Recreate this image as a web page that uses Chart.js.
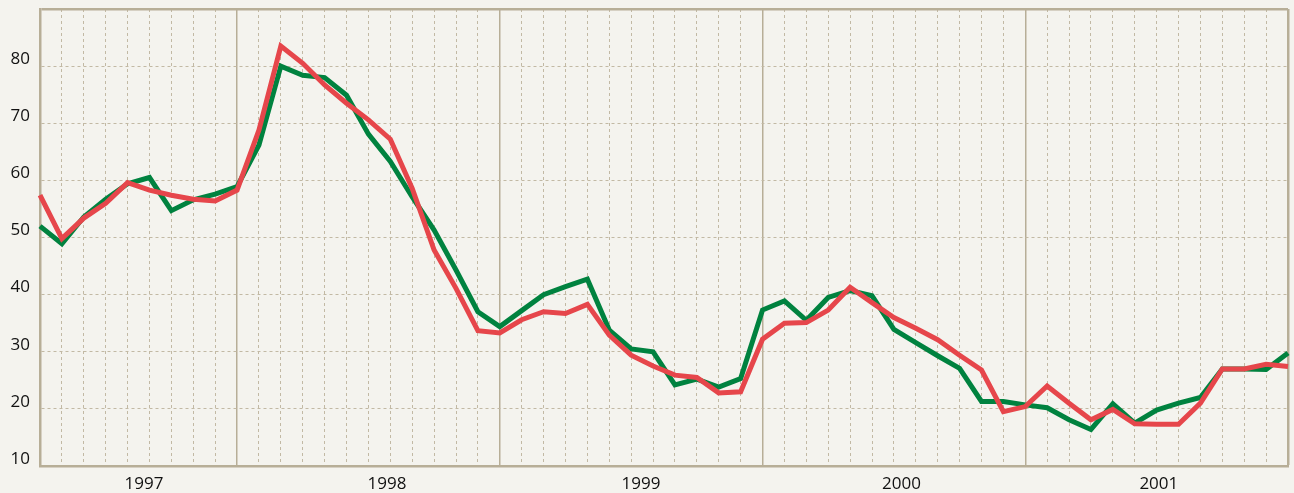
<!DOCTYPE html>
<html>
<head>
<meta charset="utf-8">
<script src="https://cdn.jsdelivr.net/npm/chart.js@4.4.1/dist/chart.umd.min.js"></script>
<style>
  html, body { margin: 0; padding: 0; background: #f4f3ee; }
  #wrap { width: 1294px; height: 493px; position: relative; }
</style>
</head>
<body>
<div id="wrap"><canvas id="chart"></canvas></div>
<script>
// monthly points, April 1997 to January 2002
const monthNames = ['Jan', 'Feb', 'Mar', 'Apr', 'May', 'Jun', 'Jul', 'Aug', 'Sep', 'Oct', 'Nov', 'Dec'];
const months = [];
for (let k = 3; k < 3 + 58; k++) {
    months.push(monthNames[k % 12] + ' ' + (1997 + Math.floor(k / 12)));
}

const greenSeries = [
    52.0, 48.9, 53.6, 56.7, 59.4, 60.5, 54.7, 56.6, 57.6, 58.9,
    66.2, 80.0, 78.4, 78.0, 74.9, 68.1, 63.3, 57.1, 51.3, 44.3,
    37.0, 34.4, 37.2, 40.0, 41.4, 42.7, 33.8, 30.5, 30.0, 24.2,
    25.2, 23.8, 25.3, 37.3, 38.9, 35.5, 39.5, 40.7, 39.8, 33.9,
    31.6, 29.3, 27.1, 21.3, 21.3, 20.7, 20.2, 18.1, 16.4, 20.9,
    17.5, 19.8, 21.0, 22.0, 27.0, 27.0, 26.9, 29.8
];
const redSeries = [
    57.4, 49.8, 53.4, 56.0, 59.6, 58.3, 57.4, 56.7, 56.4, 58.3,
    68.8, 83.5, 80.5, 76.7, 73.5, 70.6, 67.2, 58.6, 47.8, 41.1,
    33.7, 33.3, 35.6, 37.0, 36.7, 38.3, 32.9, 29.4, 27.5, 25.9,
    25.5, 22.8, 23.0, 32.2, 35.0, 35.1, 37.3, 41.3, 38.6, 36.0,
    34.1, 32.1, 29.4, 26.8, 19.5, 20.4, 24.0, 21.0, 18.1, 19.9,
    17.4, 17.3, 17.3, 21.0, 27.0, 27.0, 27.8, 27.4
];

const yearLabels = ['1997', '1998', '1999', '2000', '2001'];
const yearLabelAt = [4.75, 15.85, 27.45, 39.35, 51.1];   // in month-index units
const yearStarts = [9, 21, 33, 45];                      // January positions
const yTicks = [10, 20, 30, 40, 50, 60, 70, 80];

const frameColor = '#b7ae97';
const gridColor = '#c2b9a4';
const dotted = [3, 3];

const ctx = document.getElementById('chart').getContext('2d');
new Chart(ctx, {
    type: 'line',
    data: {
        labels: months,
        datasets: [
            {
                label: 'green',
                data: greenSeries,
                borderColor: '#00823f',
                borderWidth: 5,
                order: 2,
            },
            {
                label: 'red',
                data: redSeries,
                borderColor: '#e6464b',
                borderWidth: 5,
                order: 1,
            },
        ],
    },
    options: {
        responsive: true,
        maintainAspectRatio: false,
        animation: false,
        layout: { padding: { top: 9, right: 6, left: 0, bottom: 0 } },
        elements: {
            point: { radius: 0 },
            line: { tension: 0, borderJoinStyle: 'miter', borderCapStyle: 'butt' },
        },
        plugins: {
            legend: { display: false },
            tooltip: { enabled: false },
        },
        scales: {
            x: {
                type: 'category',
                offset: false,
                ticks: { display: false, autoSkip: false },
                grid: {
                    drawTicks: false,
                    color: (c) => {
                        if (c.index === months.length - 1) return frameColor;
                        return yearStarts.includes(c.index) ? frameColor : gridColor;
                    },
                    lineWidth: (c) => (c.index === months.length - 1 ? 2.5 : (yearStarts.includes(c.index) ? 1.5 : 1)),
                },
                border: {
                    display: true,
                    color: frameColor,
                    width: 2.5,
                    dash: (c) => {
                        if (c.index === undefined) return [];
                        if (c.index === months.length - 1 || yearStarts.includes(c.index)) return [];
                        return dotted;
                    },
                },
                afterFit: (scale) => { scale.height = 0; },
            },
            years: {
                type: 'linear',
                position: 'bottom',
                min: 0,
                max: months.length - 1,
                grid: { display: false, drawTicks: false },
                border: { display: false },
                afterBuildTicks: (scale) => {
                    scale.ticks = yearLabelAt.map((v) => ({ value: v }));
                },
                ticks: {
                    autoSkip: false,
                    maxRotation: 0,
                    padding: 8,
                    color: '#111',
                    font: { family: 'Open Sans', size: 17 },
                    callback: (value, i) => yearLabels[i],
                },
                afterFit: (scale) => { scale.height = 27; },
            },
            y: {
                min: 10,
                max: 90,
                afterBuildTicks: (scale) => {
                    scale.ticks = yTicks.concat([90]).map((v) => ({ value: v }));
                },
                ticks: {
                    padding: 10,
                    labelOffset: -7,
                    color: '#111',
                    font: { family: 'Open Sans', size: 17 },
                    callback: (value) => (value === 90 ? '' : value),
                },
                grid: {
                    drawTicks: false,
                    color: (c) => (c.tick && c.tick.value === 90 ? frameColor : gridColor),
                    lineWidth: (c) => (c.tick && c.tick.value === 90 ? 2.5 : 1),
                },
                border: {
                    display: true,
                    color: frameColor,
                    width: 2.5,
                    dash: (c) => {
                        if (!c.tick) return [];
                        return c.tick.value === 90 ? [] : dotted;
                    },
                },
                afterFit: (scale) => {
                    scale.width = 40;
                    scale.paddingTop = 0;
                    scale.paddingBottom = 0;
                },
            },
        },
    },
});
</script>
</body>
</html>
